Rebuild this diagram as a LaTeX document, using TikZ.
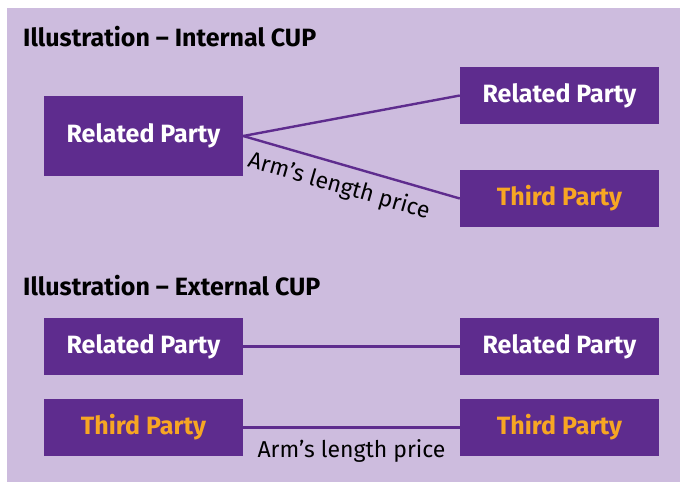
\documentclass[tikz,border=0pt]{standalone}
\usepackage{fontspec}
\setmainfont{Fira Sans}
\definecolor{cupPurple}{RGB}{94,44,142}
\definecolor{cupLilac}{RGB}{205,188,222}
\definecolor{cupOrange}{RGB}{247,166,35}

\begin{document}
\begin{tikzpicture}[
		x=1pt, y=-1pt,
		party/.style = {
			shape=rectangle, fill=cupPurple,
			minimum width=199pt, minimum height=57pt,
			font=\fontsize{25}{30}\selectfont\bfseries},
		related/.style = {party, text=white},
		third/.style = {party, text=cupOrange},
		heading/.style = {anchor=base west, inner sep=0pt,
			font=\fontsize{25}{30}\selectfont\bfseries},
		link/.style = {draw=cupPurple, line width=2.4pt},
		price/.style = {font=\fontsize{23}{27}\selectfont, text=black}]

		\useasboundingbox (0,0) rectangle (680,482);
		\fill[cupLilac] (7,8) rectangle (680,482);

		% internal CUP
		\node[heading] (titleInt) at (23,46) {Illustration -- Internal CUP};
		\node[related, minimum height=80pt] (rpA) at (143.5,136) {Related Party};
		\node[related] (rpB) at (559.5,95.5) {Related Party};
		\node[third] (tpB) at (559.5,198.5) {Third Party};
		\draw[link] (rpA.east) -- (rpB.west);
		\draw[link] (rpA.east) -- node[price, pos=0.47, sloped, below=6pt] {Arm’s length price} (tpB.west);

		% external CUP
		\node[heading] (titleExt) at (23,295) {Illustration -- External CUP};
		\node[related] (rpC) at (143.5,346.5) {Related Party};
		\node[related] (rpD) at (559.5,346.5) {Related Party};
		\node[third] (tpC) at (143.5,427.5) {Third Party};
		\node[third] (tpD) at (559.5,427.5) {Third Party};
		\draw[link] (rpC.east) -- (rpD.west);
		\draw[link] (tpC.east) -- node[price, below=8pt] {Arm’s length price} (tpD.west);
\end{tikzpicture}
\end{document}
